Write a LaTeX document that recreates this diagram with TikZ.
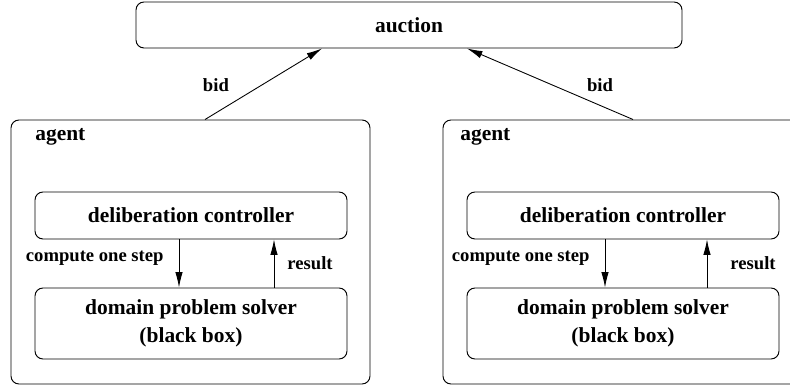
\documentclass[tikz,border=0pt]{standalone}
\usepackage{fontspec}
\setmainfont{Liberation Serif}
\usetikzlibrary{positioning,arrows.meta}

\begin{document}
\begin{tikzpicture}[
  x=0.2mm, y=-0.2mm,
  box/.style={draw, rounded corners=1.6mm, line width=0.55pt, align=center,
    font=\fontsize{12.2}{16}\selectfont\bfseries},
  title/.style={anchor=west, inner sep=0pt, font=\fontsize{12.2}{16}\selectfont\bfseries},
  lbl/.style={inner sep=0pt, font=\fontsize{10.6}{12}\selectfont\bfseries},
  arr/.style={-{Latex[length=3.1mm,width=1.5mm]}, line width=0.5pt}]
\clip (0,0) rectangle (790,385);
\node[box, minimum width=109.2mm, minimum height=9.2mm] (auction) at (409,25) {auction};
% left agent
\node[box, minimum width=71.8mm, minimum height=52.8mm] (agentL) at (190.5,252) {};
\node[title] (agentLname) at (35,137) {agent};
\node[box, minimum width=62.4mm, minimum height=9.4mm] (delibL) at (191,215.5) {deliberation controller};
\node[box, minimum width=62.4mm, minimum height=14.2mm] (solverL) at (191,323.5) {domain problem solver\\(black box)};
\draw[arr] ([xshift=-2.4mm]delibL.south) -- ([xshift=-2.4mm]solverL.north)
  node[lbl, pos=0.4, left=3mm] (stepL) {compute one step};
\draw[arr] ([xshift=16.6mm]solverL.north) -- ([xshift=16.6mm]delibL.south)
  node[lbl, midway, right=2.6mm] (resultL) {result};
% right agent
\node[box, minimum width=71.8mm, minimum height=52.8mm] (agentR) at (622.5,252) {};
\node[title] (agentRname) at (460,137) {agent};
\node[box, minimum width=62.4mm, minimum height=9.4mm] (delibR) at (623,215.5) {deliberation controller};
\node[box, minimum width=62.4mm, minimum height=14.2mm] (solverR) at (623,323.5) {domain problem solver\\(black box)};
\draw[arr] ([xshift=-3.6mm]delibR.south) -- ([xshift=-3.6mm]solverR.north)
  node[lbl, pos=0.4, left=3mm] (stepR) {compute one step};
\draw[arr] ([xshift=16.8mm]solverR.north) -- ([xshift=16.8mm]delibR.south)
  node[lbl, midway, right=4.6mm] (resultR) {result};
% bids
\draw[arr] ([xshift=2.9mm]agentL.north) -- ([xshift=-17.4mm]auction.south)
  node[lbl, pos=0.49, left=6.6mm] (bidL) {bid};
\draw[arr] ([xshift=2.1mm]agentR.north) -- ([xshift=11.6mm]auction.south)
  node[lbl, pos=0.49, right=7mm] (bidR) {bid};
\end{tikzpicture}
\end{document}
